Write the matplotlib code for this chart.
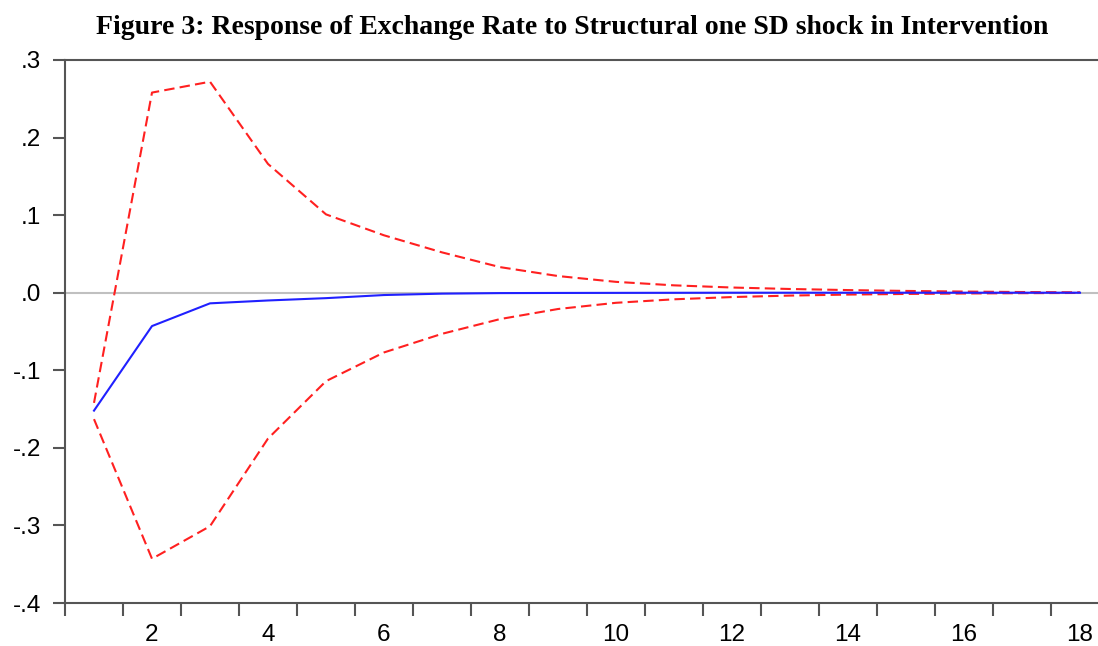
import numpy as np
import matplotlib.pyplot as plt

periods = np.arange(1, 19)

response = [-0.152, -0.043, -0.0137, -0.010, -0.007, -0.003, -0.0012, -0.0005,
            -0.0003, -0.0002, -0.0001, 0.0, 0.0, 0.0, 0.0, 0.0, 0.0, 0.0]
upper = [-0.142, 0.258, 0.272, 0.166, 0.101, 0.074, 0.052, 0.033, 0.0215,
         0.014, 0.0095, 0.0067, 0.0048, 0.0034, 0.0023, 0.0015, 0.0009, 0.0005]
lower = [-0.163, -0.343, -0.301, -0.188, -0.114, -0.077, -0.053, -0.034,
         -0.021, -0.013, -0.0085, -0.0056, -0.0037, -0.0024, -0.0016,
         -0.0010, -0.0006, -0.0003]

ytick_vals = [-0.4, -0.3, -0.2, -0.1, 0.0, 0.1, 0.2, 0.3]
ytick_labels = ["-.4", "-.3", "-.2", "-.1", ".0", ".1", ".2", ".3"]
xtick_vals = [2, 4, 6, 8, 10, 12, 14, 16, 18]

fig = plt.figure(figsize=(10.98, 6.46), dpi=100)
ax = fig.add_axes([65 / 1098, 43 / 646, 1044 / 1098, 543 / 646])

ax.axhline(0, color="#c0c0c0", lw=1.5, zorder=1)
ax.plot(periods, upper, color="#ff2020", lw=1.5, ls=(0, (5, 2.5)), zorder=2)
ax.plot(periods, lower, color="#ff2020", lw=1.5, ls=(0, (5, 2.5)), zorder=2)
ax.plot(periods, response, color="#2020ff", lw=1.5, zorder=3)

ax.set_xlim(0.5, 18.5)
ax.set_ylim(-0.4, 0.3)

ax.set_yticks(ytick_vals)
ax.set_yticklabels(ytick_labels, fontfamily="Liberation Sans", fontsize=17.5)

# tick marks sit between periods, labels sit on the periods
ax.set_xticks(np.arange(0.5, 19, 1))
ax.set_xticklabels([])
ax.set_xticks(xtick_vals, minor=True)
ax.set_xticklabels([str(v) for v in xtick_vals], minor=True,
                   fontfamily="Liberation Sans", fontsize=17.5)

ax.tick_params(axis="y", which="major", length=9, width=1.5, color="#555555", pad=8)
ax.tick_params(axis="x", which="major", length=9, width=1.5, color="#555555")
ax.tick_params(axis="x", which="minor", length=0, pad=15)

for side in ["left", "bottom", "top", "right"]:
    ax.spines[side].set_linewidth(1.5)
    ax.spines[side].set_color("#555555")

fig.text(0.521, 0.957,
         "Figure 3: Response of Exchange Rate to Structural one SD shock in Intervention",
         ha="center", va="center", fontfamily="Liberation Serif",
         fontweight="bold", fontsize=20)

fig.savefig("out.png", dpi=100)
